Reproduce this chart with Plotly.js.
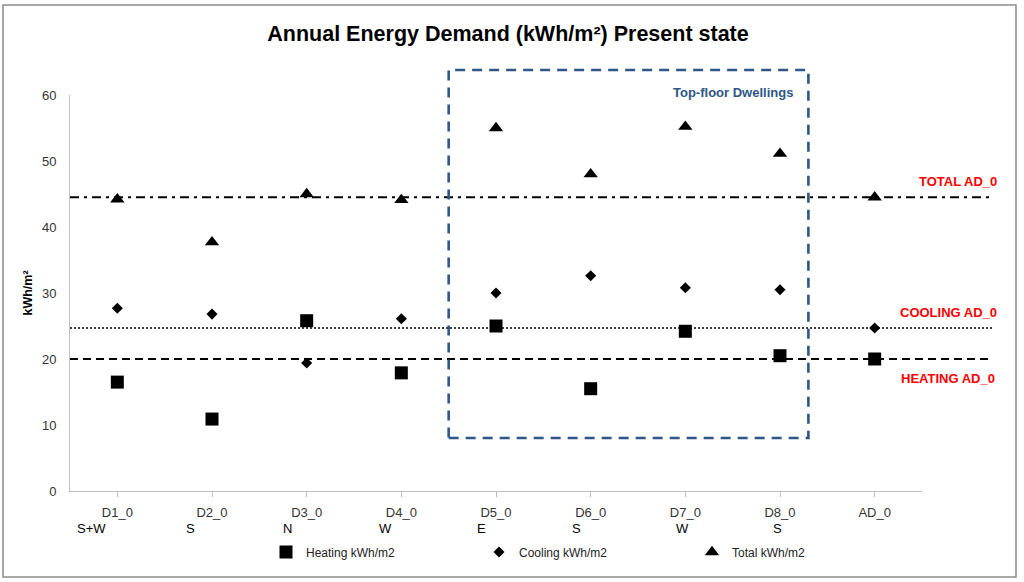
<!DOCTYPE html>
<html>
<head>
<meta charset="utf-8">
<script src="https://cdn.plot.ly/plotly-3.0.1.min.js"></script>
<style>html,body{margin:0;padding:0;background:#fff;}#chart{width:1024px;height:582px;}</style>
</head>
<body>
<div id="chart"></div>
<script>
// ---- data ----
const categories = ['D1_0','D2_0','D3_0','D4_0','D5_0','D6_0','D7_0','D8_0','AD_0'];
const orientations = ['S+W','S','N','W','E','S','W','S',''];
const heating = [16.5, 10.9, 25.8, 17.9, 25.0, 15.5, 24.2, 20.5, 20.0];
const cooling = [27.7, 26.8, 19.4, 26.1, 30.0, 32.6, 30.8, 30.5, 24.7];
const total   = [44.2, 37.7, 45.0, 44.1, 55.0, 48.0, 55.2, 51.1, 44.5];
const refLabels = ['TOTAL AD_0','COOLING AD_0','HEATING AD_0'];
const boxLabel = 'Top-floor Dwellings';
const topFloorFirst = 'D5_0', topFloorLast = 'D8_0';

// ---- layout helpers (pixel geometry of the plot area) ----
const W = 1024, H = 582;
const M = {l: 70, r: 102, t: 95, b: 91};
const PW = W - M.l - M.r, PH = H - M.t - M.b;
const px2x = p => (p - M.l) / PW;
const px2y = p => (H - M.b - p) / PH;
const nCat = categories.length;
const cat2paper = i => (i + 0.5) / nCat;
const orientShift = [-0.27, -0.23, -0.2, -0.17, -0.15, -0.15, -0.03, -0.03, 0];

const FONT = 'Liberation Sans, Arial, sans-serif';

const markerCommon = {color: '#000'};
const traces = [
  {name: 'Heating kWh/m2', x: categories, y: heating, type: 'scatter', mode: 'markers',
   marker: Object.assign({symbol: 'square', size: 13}, markerCommon)},
  {name: 'Cooling kWh/m2', x: categories, y: cooling, type: 'scatter', mode: 'markers',
   marker: Object.assign({symbol: 'diamond', size: 8.5}, markerCommon)},
  {name: 'Total kWh/m2', x: categories, y: total, type: 'scatter', mode: 'markers',
   marker: Object.assign({symbol: 'triangle-up', size: 12.5}, markerCommon)}
];

const last = nCat - 1;
const lineEnd = px2x(993);
const shapes = [
  {type: 'line', xref: 'paper', yref: 'y', x0: 0, x1: lineEnd, y0: total[last], y1: total[last],
   line: {color: '#000', width: 2, dash: '9px,5px,3px,5px'}},
  {type: 'line', xref: 'paper', yref: 'y', x0: 0, x1: lineEnd, y0: cooling[last], y1: cooling[last],
   line: {color: '#000', width: 1.6, dash: '2px,2px'}},
  {type: 'line', xref: 'paper', yref: 'y', x0: 0, x1: lineEnd, y0: heating[last], y1: heating[last],
   line: {color: '#000', width: 1.8, dash: '8px,5px'}},
  {type: 'rect', xref: 'paper', yref: 'paper',
   x0: cat2paper(categories.indexOf(topFloorFirst)) - 0.5 / nCat,
   x1: cat2paper(categories.indexOf(topFloorLast)) + 0.3 / nCat,
   y0: px2y(438), y1: px2y(70),
   line: {color: '#2E5686', width: 2.6, dash: '10px,7px'}},
  {type: 'rect', xref: 'paper', yref: 'paper', x0: px2x(3), x1: px2x(1016), y0: px2y(577), y1: px2y(5),
   line: {color: '#8c8c8c', width: 1.5}}
];

function ann(x, y, text, size, color) {
  return {xref: 'paper', yref: 'paper', x: x, y: y, xanchor: 'center', yanchor: 'middle',
          text: text, showarrow: false, font: {family: FONT, size: size, color: color}};
}
const annotations = [
  ann(px2x(958), px2y(181), '<b>' + refLabels[0] + '</b>', 13, '#ff0000'),
  ann(px2x(948), px2y(312), '<b>' + refLabels[1] + '</b>', 13, '#ff0000'),
  ann(px2x(948), px2y(378), '<b>' + refLabels[2] + '</b>', 13, '#ff0000'),
  ann(px2x(733), px2y(92), '<b>' + boxLabel + '</b>', 13, '#2E5686')
];
orientations.forEach((o, i) => {
  if (!o) return;
  annotations.push(ann(cat2paper(i + orientShift[i]), px2y(528), o, 13, '#000'));
});

const layout = {
  width: W, height: H,
  margin: M,
  paper_bgcolor: '#fff', plot_bgcolor: '#fff',
  font: {family: FONT, size: 13, color: '#222'},
  title: {text: '<b>Annual Energy Demand (kWh/m²) Present state</b>',
          font: {family: FONT, size: 21.5, color: '#000'}, x: 508 / W, xref: 'container', xanchor: 'center',
          y: 1 - 33 / H, yanchor: 'middle'},
  xaxis: {type: 'category', categoryorder: 'array', categoryarray: categories, range: [-0.5, nCat - 0.5],
          showline: true, linecolor: '#bfbfbf', linewidth: 1, ticks: 'outside', ticklen: 5, tickcolor: '#bfbfbf',
          ticklabelstandoff: 4,
          showgrid: false, zeroline: false, tickfont: {family: FONT, size: 13, color: '#333'}, fixedrange: true},
  yaxis: {range: [0, 60], dtick: 10, showline: true, linecolor: '#bfbfbf', linewidth: 1, ticks: '',
          ticklabelstandoff: 10,
          showgrid: false, zeroline: false, tickfont: {family: FONT, size: 13, color: '#333'},
          title: {text: '<b>kWh/m²</b>', font: {family: FONT, size: 12.5, color: '#000'}, standoff: 6}},
  showlegend: true,
  legend: {orientation: 'h', x: px2x(266), xanchor: 'left', y: px2y(552), yanchor: 'middle',
           font: {family: FONT, size: 12, color: '#222'}, entrywidth: 168, entrywidthmode: 'pixels',
           itemwidth: 30, bgcolor: 'rgba(0,0,0,0)'},
  shapes: shapes,
  annotations: annotations
};

Plotly.newPlot('chart', traces, layout, {displayModeBar: false, staticPlot: true});
</script>
</body>
</html>
